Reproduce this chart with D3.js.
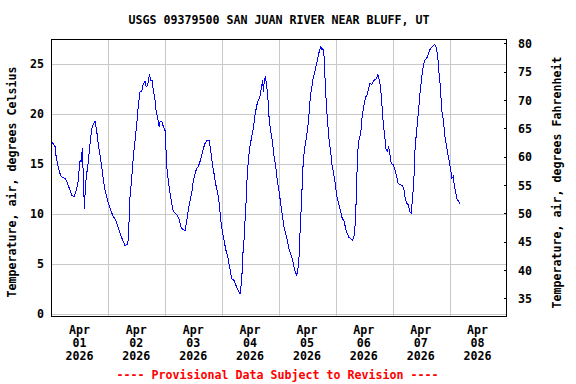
<!DOCTYPE html>
<html><head><meta charset="utf-8">
<script src="https://cdn.jsdelivr.net/npm/d3@7"></script>
<style>
html,body{margin:0;padding:0;background:#fff;}
svg{display:block;}
text{font-family:"DejaVu Sans Mono",monospace;font-weight:bold;font-size:11.63px;fill:#000;}
</style></head>
<body>
<svg id="c" width="576" height="384"></svg>
<script>
const title = "USGS 09379500 SAN JUAN RIVER NEAR BLUFF, UT";
const leftLabel = "Temperature, air, degrees Celsius";
const rightLabel = "Temperature, air, degrees Fahrenheit";
const footer = "---- Provisional Data Subject to Revision ----";

// hours since 2026-04-01 00:00
const hours = [0.1,1.5,1.9,2.5,3.3,4.05,5.7,6.45,7.55,8.56,9.66,10.38,11.09,11.64,12.06,12.48,13.03,13.33,13.88,14.3,14.72,15.14,15.56,15.98,16.41,17.0,17.67,18.39,19.11,19.78,20.5,21.21,21.89,22.61,23.32,24.0,24.72,25.85,27.12,27.96,28.93,30.07,31.04,32.01,32.6,32.86,33.45,33.99,34.54,35.26,35.98,36.65,37.37,
38.09,38.51,39.06,39.48,39.9,40.45,40.87,41.29,41.88,42.43,42.98,43.7,44.12,44.67,45.38,45.8,46.52,47.19,47.91,48.33,48.63,49.3,50.02,50.74,51.41,52.85,53.94,54.53,55.38,56.35,57.07,57.74,58.46,59.17,59.85,60.57,61.28,61.96,62.67,63.39,64.07,64.78,65.5,66.47,67.19,67.86,68.58,69.42,70.14,70.81,71.4,72.08,72.8,73.64,74.36,75.03,75.5,76.04,
77.01,77.86,78.83,79.55,80.26,80.68,81.23,81.66,82.08,82.62,83.22,83.76,84.48,85.15,85.87,86.59,87.26,87.98,88.7,89.12,89.37,89.79,90.22,90.81,91.48,91.9,92.49,93.17,93.76,94.6,95.28,95.99,96.71,97.39,98.1,98.82,99.49,100.34,101.35,102.02,102.74,103.46,104.13,104.55,104.85,105.27,105.82,106.24,106.96,107.68,108.35,108.77,109.36,109.78,110.21,110.76,111.6,112.15,112.74,
113.29,113.71,114.13,114.55,114.97,115.27,115.69,116.11,116.66,117.21,117.8,118.35,118.9,119.61,120.03,120.58,121.3,122.02,122.69,123.41,124.12,124.8,125.52,126.23,126.91,127.63,128.17,128.6,129.02,129.44,129.86,130.45,131.0,131.55,132.14,132.69,133.24,133.83,134.37,135.09,135.77,136.48,137.2,137.75,138.3,138.89,139.43,139.98,140.7,141.12,141.67,142.26,142.81,143.36,144.2,144.92,145.63,146.31,147.03,148.17,148.71,149.26,149.85,150.53,151.24,151.75,
152.38,152.93,153.35,153.78,154.32,154.91,155.46,156.18,156.6,157.15,157.7,158.29,158.96,159.68,160.4,161.07,161.79,162.5,163.05,163.47,163.9,164.32,164.74,165.29,165.71,166.13,166.72,167.27,167.82,168.41,168.96,169.51,169.93,170.52,171.07,171.79,172.46];
const tempC = [17.2,16.7,15.8,15.0,14.2,13.7,13.5,13.2,12.5,11.8,11.7,12.3,12.9,14.3,15.3,15.2,16.5,14.3,10.5,12.7,13.7,14.5,15.2,16.3,17.3,18.5,19.0,19.2,18.2,16.8,15.8,14.7,13.3,12.3,11.7,11.0,10.5,9.8,9.3,8.7,8.0,7.3,6.8,6.9,7.7,11.0,12.5,14.0,15.7,17.3,19.0,20.8,22.2,
22.2,22.8,23.1,23.2,22.7,22.8,23.2,23.9,23.3,23.3,22.3,21.3,20.3,19.7,18.7,19.2,19.2,18.7,18.3,16.3,14.7,13.3,12.0,11.0,10.2,9.9,9.4,8.7,8.4,8.3,9.3,10.3,11.3,12.0,13.3,14.0,14.5,14.7,15.2,15.8,16.5,17.0,17.3,17.3,16.3,15.0,14.0,12.8,12.0,11.0,9.3,8.3,7.3,6.3,5.7,4.8,4.2,3.5,
3.3,2.8,2.3,2.0,3.2,5.7,7.3,9.3,11.0,14.0,15.7,16.7,17.7,18.5,19.8,20.8,21.3,21.7,22.8,23.3,22.2,23.2,23.7,22.8,21.0,19.2,18.3,17.3,16.0,14.7,13.3,12.3,11.0,9.8,8.7,8.0,7.3,6.3,5.7,5.0,4.3,3.8,4.7,6.0,8.0,10.0,13.0,15.3,16.7,17.8,19.0,20.3,22.0,22.5,23.3,23.8,24.7,25.3,26.0,
26.4,26.7,26.4,26.5,25.9,24.2,22.2,20.4,18.7,17.2,16.2,14.9,14.2,13.2,12.4,11.5,10.9,10.2,9.5,9.3,8.5,8.0,7.6,7.5,7.3,7.7,9.0,11.5,15.0,16.9,17.5,17.9,19.5,20.4,21.2,21.7,21.9,22.5,23.0,22.9,23.2,23.4,23.5,23.9,23.4,22.5,20.9,19.0,17.5,16.5,16.2,16.7,15.9,15.0,14.9,14.4,13.7,13.0,12.9,12.8,12.4,11.5,11.0,10.9,10.2,10.0,
11.5,13.5,16.2,17.5,18.9,20.4,21.9,23.5,24.4,25.0,25.4,25.5,25.9,26.4,26.6,26.8,26.9,26.5,25.5,24.2,23.2,21.7,20.2,19.4,18.5,17.5,16.7,15.9,15.2,14.4,13.5,13.7,12.9,12.2,11.5,11.2,10.9];

const celsiusTicks = [0,5,10,15,20,25];
const fahrenheitTicks = [35,40,45,50,55,60,65,70,75,80];
const dayLabels = ["01","02","03","04","05","06","07","08"];
const monthLabel = "Apr";
const yearLabel = "2026";

const start = Date.UTC(2026,3,1);
const toDate = h => new Date(start + h*3600e3);

const L = 51.5, R = 506.5, T = 39.5, B = 316.5;
const x = d3.scaleUtc().domain([new Date(start), new Date(Date.UTC(2026,3,9))]).range([L, R]);
const y = d3.scaleLinear().domain([-0.3, 27.4]).range([B, T]);
const yF = d3.scaleLinear().domain([31.82, 80.67]).range([B, T]);

const svg = d3.select("#c");

// gridlines
const gx = svg.append("g").attr("transform", `translate(0,${T})`)
  .call(d3.axisBottom(x).tickValues(d3.range(1,8).map(i => new Date(start + i*86400e3))).tickSize(B-T).tickFormat(""));
gx.select(".domain").remove();
gx.selectAll("line").attr("stroke","#c8c8c8").attr("shape-rendering","crispEdges");

const gy = svg.append("g").attr("transform", `translate(${L},0)`)
  .call(d3.axisLeft(y).tickValues(celsiusTicks).tickSize(-(R-L)).tickPadding(7.5).tickFormat(d3.format("d")));
gy.select(".domain").remove();
gy.selectAll("line").attr("stroke","#c8c8c8").attr("shape-rendering","crispEdges");
gy.selectAll("text").attr("font-family", null).attr("font-size", null).attr("fill","#000").attr("dy","0.36em");

// line
const data = hours.map((h,i) => ({t: toDate(h), v: tempC[i]}));
svg.append("path").datum(data)
  .attr("fill","none").attr("stroke","#0000ff").attr("stroke-width",1)
  .attr("shape-rendering","crispEdges")
  .attr("d", d3.line().x(d => x(d.t)).y(d => y(d.v)));

// frame
svg.append("rect").attr("x",L).attr("y",T).attr("width",R-L).attr("height",B-T)
  .attr("fill","none").attr("stroke","#000").attr("shape-rendering","crispEdges");

// right axis
const gr = svg.append("g").attr("transform", `translate(${R},0)`)
  .call(d3.axisRight(yF).tickValues(fahrenheitTicks).tickSize(-3).tickPadding(11.5).tickFormat(d3.format("d")));
gr.select(".domain").remove();
gr.selectAll("line").attr("stroke","#000").attr("shape-rendering","crispEdges");
gr.selectAll("text").attr("font-family", null).attr("font-size", null).attr("fill","#000").attr("dy","0.36em");

// bottom labels at noon
const gb = svg.append("g").attr("transform", `translate(0,${B})`)
  .call(d3.axisBottom(x).tickValues(dayLabels.map((d,i) => new Date(start + (i+0.5)*86400e3))).tickSize(0).tickFormat(""));
gb.select(".domain").remove();
gb.selectAll(".tick").each(function(d,i){
  const t = d3.select(this).append("text").attr("text-anchor","middle");
  t.append("tspan").attr("x",-1).attr("y",17.5).text(monthLabel);
  t.append("tspan").attr("x",-1).attr("y",30.5).text(dayLabels[i]);
  t.append("tspan").attr("x",-1).attr("y",43.5).text(yearLabel);
});

// titles
svg.append("text").attr("x",(L+R)/2).attr("y",24).attr("text-anchor","middle").text(title);
svg.append("text").attr("transform","translate(16,182) rotate(-90)").attr("text-anchor","middle").text(leftLabel);
svg.append("text").attr("transform","translate(560.5,182.5) rotate(-90)").attr("text-anchor","middle").text(rightLabel);
svg.append("text").attr("x",277.5).attr("y",378.5).attr("text-anchor","middle").style("fill","#ff0000").text(footer);
</script>
</body></html>
